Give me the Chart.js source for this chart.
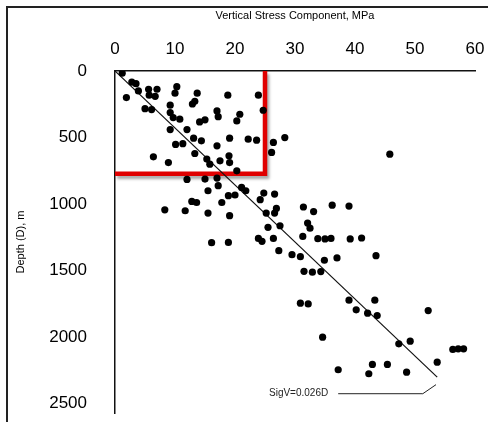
<!DOCTYPE html>
<html>
<head>
<meta charset="utf-8">
<script src="https://cdn.jsdelivr.net/npm/chart.js@4.4.1/dist/chart.umd.min.js"></script>
<style>
  body { margin: 0; background: #fff; }
  canvas { display: block; }
</style>
</head>
<body>
<canvas id="chart1" width="488" height="422"></canvas>
<script>

// measured vertical stress (MPa) against depth (m)
const stressValues = [
    1.2, 2.8, 3.5, 1.9, 3.9, 5.6, 7.0, 5.7, 6.7, 10.3, 10.0, 13.7, 13.3, 12.9, 18.8, 23.9,
    5.0, 6.1, 9.2, 9.2, 9.7, 10.8, 17.0, 17.2, 15.0, 14.1, 20.8, 20.3, 24.7,
    9.2, 12.0, 10.1, 11.3, 13.1, 14.4, 17.0, 19.1, 22.2, 23.6, 26.4, 28.3, 26.1,
    6.4, 8.9, 13.3, 15.3, 15.8, 19.0, 19.1, 17.5, 20.3,
    12.0, 15.0, 17.0, 15.5, 17.2, 21.1, 21.8, 24.8, 26.6, 18.9, 20.0, 17.8, 13.6, 12.8, 24.2,
    8.3, 11.7, 15.5, 19.1, 25.2, 26.6, 26.9, 31.4, 33.1, 36.2, 39.0,
    25.5, 27.5, 32.1, 32.5, 31.3, 33.8, 35.0, 36.0, 39.2, 41.1, 23.9, 26.4, 24.5, 16.1, 18.9,
    27.3, 29.5, 30.9, 34.9, 37.0, 43.5, 31.5, 32.9, 34.3,
    30.9, 32.2, 39.0, 43.3, 40.2, 42.1, 43.7, 52.2,
    34.6, 47.3, 49.2, 56.3, 57.2, 58.1, 53.7, 37.2, 42.9, 45.4, 42.3, 48.6, 45.8
];

const depthValues = [
    17, 83, 95, 200, 150, 137, 137, 182, 190, 118, 167, 167, 228, 248, 182, 182,
    283, 290, 257, 312, 350, 362, 300, 343, 367, 383, 325, 375, 295,
    440, 440, 552, 546, 505, 525, 562, 505, 512, 520, 537, 500, 612,
    645, 688, 620, 662, 700, 637, 688, 675, 750,
    815, 812, 805, 900, 862, 875, 900, 917, 925, 937, 932, 988, 988, 980, 967,
    1043, 1050, 1068, 1087, 1068, 1068, 1033, 1022, 1056, 1008, 1015,
    1175, 1163, 1143, 1181, 1243, 1260, 1262, 1258, 1262, 1255, 1258, 1258, 1280, 1290, 1288,
    1350, 1380, 1395, 1422, 1405, 1388, 1505, 1512, 1507,
    1745, 1750, 1722, 1722, 1795, 1820, 1838, 1800,
    2000, 2050, 2030, 2092, 2088, 2088, 2188, 2245, 2205, 2205, 2275, 2263, 625
];

// SigV trend line
const trendStress = [0, 53.7];
const trendDepth = [0, 2300];

// shallow zone outline
const zoneStress = [0, 25, 25];
const zoneDepth = [772, 772, 0];

// leader from the equation label to the trend line
const leaderStress = [37.2, 51.3, 53.5];
const leaderDepth = [2425, 2425, 2357];

const stressTicks = [0, 10, 20, 30, 40, 50, 60];
const depthTicks = [0, 500, 1000, 1500, 2000, 2500];

const trendLabel = 'SigV=0.026D';


function toPoints(xs, ys) {
    return xs.map(function (x, i) {
        return { x: x, y: ys[i] };
    });
}

// no extra room around the axes, layout.padding decides it
function noScalePadding(scale) {
    scale.paddingLeft = 0;
    scale.paddingRight = 0;
    scale.paddingTop = 0;
    scale.paddingBottom = 0;
}

const fontFamily = "'Liberation Sans', Arial, sans-serif";

// frame lines, red box shadow and the equation text
const extras = {
    id: 'extras',
    beforeDraw: function (chart) {
        const ctx = chart.ctx;
        ctx.save();
        ctx.fillStyle = '#fff';
        ctx.fillRect(0, 0, chart.width, chart.height);
        ctx.restore();
    },
    beforeDatasetDraw: function (chart, args) {
        if (args.index === 2) {
            const ctx = chart.ctx;
            ctx.save();
            ctx.shadowColor = 'rgba(0,0,0,0.35)';
            ctx.shadowBlur = 3;
            ctx.shadowOffsetX = 2;
            ctx.shadowOffsetY = 3;
        }
    },
    afterDatasetDraw: function (chart, args) {
        if (args.index === 2) {
            chart.ctx.restore();
        }
    },
    afterDraw: function (chart) {
        const ctx = chart.ctx;
        const x = chart.scales.x;
        const y = chart.scales.y;

        ctx.save();
        ctx.strokeStyle = '#222';
        ctx.lineWidth = 2;
        ctx.beginPath();
        ctx.moveTo(7, chart.height);
        ctx.lineTo(7, 7);
        ctx.lineTo(chart.width, 7);
        ctx.stroke();

        ctx.fillStyle = '#222';
        ctx.font = '10px ' + fontFamily;
        ctx.textAlign = 'right';
        ctx.textBaseline = 'middle';
        ctx.fillText(trendLabel, x.getPixelForValue(leaderStress[0]) - 10, y.getPixelForValue(leaderDepth[0]));
        ctx.restore();
    }
};


const chart1 = new Chart(document.getElementById('chart1'), {
    type: 'scatter',
    data: {
        datasets: [
            {
                data: toPoints(stressValues, depthValues),
                backgroundColor: '#000',
                borderColor: '#000',
                borderWidth: 0,
                pointStyle: 'circle',
                pointRadius: 3.6,
                order: 0
            },
            {
                type: 'line',
                data: toPoints(trendStress, trendDepth),
                borderColor: '#111',
                borderWidth: 1.2,
                pointRadius: 0,
                order: 1
            },
            {
                type: 'line',
                data: toPoints(zoneStress, zoneDepth),
                borderColor: '#e00000',
                borderWidth: 4.5,
                borderJoinStyle: 'miter',
                pointRadius: 0,
                order: 2
            },
            {
                type: 'line',
                data: toPoints(leaderStress, leaderDepth),
                borderColor: '#222',
                borderWidth: 1,
                pointRadius: 0,
                order: 3
            }
        ]
    },
    options: {
        responsive: false,
        animation: false,
        devicePixelRatio: 1,
        layout: {
            padding: { left: 0, top: 0, right: 13, bottom: 9 }
        },
        plugins: {
            legend: { display: false },
            tooltip: { enabled: false }
        },
        scales: {
            x: {
                type: 'linear',
                position: 'top',
                min: 0,
                max: 60,
                afterBuildTicks: function (scale) {
                    scale.ticks = stressTicks.map(function (v) { return { value: v }; });
                },
                afterFit: function (scale) {
                    scale.height = 71;
                    noScalePadding(scale);
                },
                ticks: {
                    color: '#000',
                    font: { family: fontFamily, size: 17 },
                    padding: 11,
                    maxRotation: 0,
                    callback: function (value) { return String(value); }
                },
                grid: { display: false, drawTicks: false },
                border: { display: true, color: '#111', width: 1.5 },
                title: {
                    display: true,
                    text: 'Vertical Stress Component, MPa',
                    color: '#000',
                    font: { family: fontFamily, size: 11 },
                    padding: { top: 9, bottom: 0 }
                }
            },
            y: {
                type: 'linear',
                reverse: true,
                min: 0,
                max: 2570,
                afterBuildTicks: function (scale) {
                    scale.ticks = depthTicks.map(function (v) { return { value: v }; });
                },
                afterFit: function (scale) {
                    scale.width = 115;
                    noScalePadding(scale);
                },
                ticks: {
                    color: '#000',
                    font: { family: fontFamily, size: 17 },
                    padding: 28,
                    callback: function (value) { return String(value); }
                },
                grid: { display: false, drawTicks: false },
                border: { display: true, color: '#111', width: 1.5 },
                title: {
                    display: true,
                    text: 'Depth (D), m',
                    color: '#000',
                    font: { family: fontFamily, size: 11 },
                    padding: { top: 14, bottom: 0 }
                }
            }
        }
    },
    plugins: [extras]
});

</script>
</body>
</html>
